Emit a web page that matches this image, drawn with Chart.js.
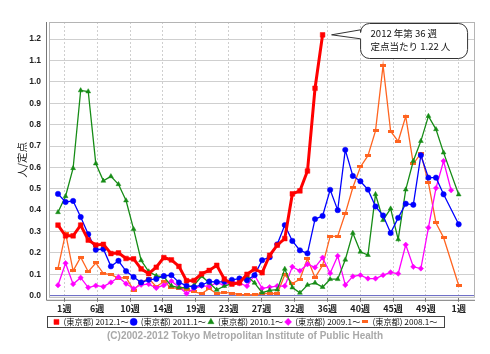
<!DOCTYPE html>
<html>
<head>
<meta charset="utf-8">
<title>東京都 インフルエンザ 定点当たり報告数</title>
<script src="https://cdn.jsdelivr.net/npm/chart.js@4.4.0/dist/chart.umd.min.js"></script>
<style>
body { margin: 0; background: #fff; }
#wrap { width: 490px; height: 354px; }
</style>
</head>
<body>
<div id="wrap"><canvas id="flu" width="490" height="354"></canvas></div>
<script>
// month-start week labels along the bottom
var monthLabels = ['1週', '6週', '10週', '14週', '19週', '23週', '27週', '32週', '36週', '40週', '45週', '49週', '1週'];
var yTicks = [0, 0.1, 0.2, 0.3, 0.4, 0.5, 0.6, 0.7, 0.8, 0.9, 1.0, 1.1, 1.2];
var seriesNames = ['(東京都) 2012.1～', '(東京都) 2011.1～', '(東京都) 2010.1～', '(東京都) 2009.1～', '(東京都) 2008.1～'];
var copyright = '(C)2002-2012 Tokyo Metropolitan Institute of Public Health';

// per-week values (index 0 = 1週); 52-week years end on next year's 1週 (index 53)
var y2012 = [0.33, 0.28, 0.28, 0.33, 0.26, 0.237, 0.24, 0.197, 0.20, 0.174, 0.172, 0.125, 0.103, 0.133, 0.178, 0.167, 0.137, 0.07,
    0.071, 0.102, 0.118, 0.142, 0.078, 0.054, 0.06, 0.10, 0.125, 0.107, 0.189, 0.236, 0.267, 0.476, 0.49, 0.583, 0.97, 1.22];
var y2011 = [0.476, 0.438, 0.443, 0.368, 0.287, 0.215, 0.218, 0.137, 0.163, 0.115, 0.087, 0.062, 0.074, 0.078, 0.092, 0.096, 0.062, 0.047,
    0.04, 0.05, 0.066, 0.064, 0.066, 0.074, 0.08, 0.072, 0.096, 0.166, 0.18, 0.24, 0.33, 0.256, 0.212, 0.198, 0.358, 0.373,
    0.495, 0.40, 0.682, 0.56, 0.535, 0.496, 0.417, 0.375, 0.293, 0.364, 0.43, 0.425, 0.657, 0.552, 0.552, 0.474, null, 0.334];
var y2010 = [0.39, 0.465, 0.596, 0.96, 0.955, 0.618, 0.537, 0.558, 0.521, 0.445, 0.311, 0.165, 0.113, 0.093, 0.088, 0.046, 0.038, 0.038,
    0.049, 0.091, 0.06, 0.027, 0.045, 0.056, 0.062, 0.091, 0.06, 0.014, 0.025, 0.028, 0.125, 0.038, 0.013, 0.05, 0.06, 0.04,
    0.077, 0.077, 0.168, 0.293, 0.205, 0.19, 0.474, 0.353, 0.407, 0.263, 0.496, 0.63, 0.723, 0.84, 0.778, 0.669, null, 0.473];
var y2009 = [0.049, 0.152, 0.054, 0.084, 0.038, 0.047, 0.042, 0.062, 0.087, 0.056, 0.033, 0.051, 0.054, 0.036, 0.049, 0.068, 0.041, 0.01,
    0.034, 0.045, 0.045, 0.06, 0.05, 0.068, 0.057, 0.045, 0.096, 0.034, 0.04, 0.045, 0.045, 0.135, 0.116, 0.147, 0.132, 0.178,
    0.105, 0.186, 0.05, 0.09, 0.096, 0.08, 0.08, 0.096, 0.109, 0.103, 0.238, 0.135, 0.127, 0.318, 0.503, 0.63, 0.493];
var y2008 = [0.128, 0.292, 0.116, 0.18, 0.112, 0.153, 0.104, 0.098, 0.082, 0.085, 0.026, 0.062, 0.08, 0.042, 0.066, 0.036, 0.034, 0.03,
    0.018, 0.01, 0.032, 0.01, 0.015, 0.012, 0.005, 0.005, 0.004, 0.01, 0.011, 0.009, 0.098, 0.057, 0.077, 0.174, 0.084, 0.142,
    0.277, 0.278, 0.384, 0.506, 0.602, 0.655, 0.771, 1.077, 0.769, 0.722, 0.839, 0.616, 0.665, 0.527, 0.34, 0.272, null, 0.049];

var firstTick = 0.83;          // 1週 gridline sits a bit right of the first weekly point
var weeksPerMonth = 52.18 / 12;

function pts(arr) {
    return arr.map(function (v, i) { return {x: i, y: v}; });
}

// small flat bar marker used for the 2008 series
function barMarker(color, w, h) {
    var c = document.createElement('canvas');
    c.width = w; c.height = h;
    var g = c.getContext('2d');
    g.fillStyle = color;
    g.fillRect(0, 0, w, h);
    return c;
}

function series(i, arr, color, style, radius, width) {
    return {
        label: seriesNames[i],
        data: pts(arr),
        borderColor: color,
        backgroundColor: color,
        pointBackgroundColor: color,
        pointBorderColor: color,
        borderWidth: width,
        pointStyle: style,
        pointRadius: radius,
        pointBorderWidth: 0.5,
        spanGaps: true,
        tension: 0
    };
}

var plotFrame = {
    id: 'plotFrame',
    beforeDatasetsDraw: function (chart) {
        var a = chart.chartArea, c = chart.ctx;
        c.save();
        c.strokeStyle = '#b4b4b4';
        c.lineWidth = 1;
        c.strokeRect(a.left + 0.5, a.top + 0.5, a.right - a.left - 1, a.bottom - a.top - 1);
        c.strokeStyle = '#777';
        c.beginPath();
        c.moveTo(a.left - 2.5, a.top);
        c.lineTo(a.left - 2.5, a.bottom + 2.5);
        c.lineTo(a.right, a.bottom + 2.5);
        c.stroke();
        c.restore();
    },
    afterDraw: function (chart) {
        var c = chart.ctx;
        c.save();
        // box round the legend
        var hb = chart.legend.legendHitBoxes;
        if (hb && hb.length) {
            var last = hb[hb.length - 1];
            c.strokeStyle = '#444';
            c.lineWidth = 1;
            var l = Math.round(hb[0].left - 6) + 0.5;
            var r = Math.round(last.left + last.width + 6) + 0.5;
            var t = Math.round(hb[0].top - 2) + 0.5;
            c.strokeRect(l, t, r - l, 11);
        }
        // copyright line under the legend
        c.fillStyle = '#a9a9a9';
        c.font = 'bold 10px "Liberation Sans", sans-serif';
        c.textAlign = 'center';
        c.textBaseline = 'middle';
        c.fillText(copyright, chart.width / 2, 336);
        c.restore();
    }
};

var callout = {
    id: 'callout',
    afterDatasetsDraw: function (chart) {
        var meta = chart.getDatasetMeta(0);
        var p = meta.data[y2012.length - 1];
        var c = chart.ctx;
        var tipX = p.x + 9, tipY = p.y;
        var left = p.x + 38, top = 23.5, w = 107, h = 35, r = 9;
        c.save();
        c.fillStyle = '#fff';
        c.strokeStyle = '#333';
        c.lineWidth = 1;
        c.beginPath();
        c.moveTo(left + r, top);
        c.lineTo(left + w - r, top);
        c.arcTo(left + w, top, left + w, top + r, r);
        c.lineTo(left + w, top + h - r);
        c.arcTo(left + w, top + h, left + w - r, top + h, r);
        c.lineTo(left + r, top + h);
        c.arcTo(left, top + h, left, top + h - r, r);
        c.lineTo(left, tipY + 4);
        c.lineTo(tipX, tipY);
        c.lineTo(left, tipY - 5);
        c.lineTo(left, top + r);
        c.arcTo(left, top, left + r, top, r);
        c.closePath();
        c.fill();
        c.stroke();
        c.fillStyle = '#111';
        c.font = '9.5px "Noto Sans CJK JP", sans-serif';
        c.textBaseline = 'alphabetic';
        c.fillText('2012 年第 36 週', left + 10, top + 13.5);
        c.fillText('定点当たり ' + y2012[y2012.length - 1].toFixed(2) + ' 人', left + 10, top + 26.5);
        c.restore();
    }
};

var ctx = document.getElementById('flu').getContext('2d');
var chart = new Chart(ctx, {
    type: 'line',
    data: {
        datasets: [
            series(0, y2012, '#ff0000', 'rect', 3.3, 3),
            series(1, y2011, '#0000ff', 'circle', 2.7, 1.3),
            series(2, y2010, '#168c16', 'triangle', 2.8, 1.3),
            series(3, y2009, '#ff00ff', 'rectRot', 2.7, 1.3),
            series(4, y2008, '#ff6420', barMarker('#ff6420', 6, 3), 3, 1.3)
        ]
    },
    options: {
        responsive: false,
        animation: false,
        devicePixelRatio: 1,
        layout: {padding: {top: 22, right: 15, left: 16, bottom: 18}},
        scales: {
            x: {
                type: 'linear',
                min: -1.19,
                max: 55.16,
                afterBuildTicks: function (scale) {
                    scale.ticks = monthLabels.map(function (l, k) {
                        return {value: firstTick + k * weeksPerMonth};
                    });
                },
                afterFit: function (scale) { scale.height = 18; },
                ticks: {
                    autoSkip: false,
                    maxRotation: 0,
                    padding: 1,
                    color: '#222',
                    font: {family: '"Noto Sans CJK JP", sans-serif', size: 9, weight: 'bold'},
                    callback: function (v, i) { return monthLabels[i]; }
                },
                grid: {
                    color: '#cfcfcf',
                    borderDash: [2, 2],
                    tickColor: '#777',
                    tickLength: 4,
                    tickBorderDash: []
                },
                border: {display: false, dash: [2, 2]}
            },
            y: {
                min: -0.01,
                max: 1.28,
                afterBuildTicks: function (scale) {
                    scale.ticks = yTicks.map(function (v) { return {value: v}; });
                },
                afterFit: function (scale) { scale.width = 33; },
                ticks: {
                    padding: 8,
                    color: '#222',
                    font: {family: '"Liberation Sans", sans-serif', size: 8.5, weight: 'bold'},
                    callback: function (v) { return v.toFixed(1); }
                },
                title: {
                    display: true,
                    text: '人/定点',
                    color: '#222',
                    padding: {top: 0, bottom: 0},
                    font: {family: '"Noto Sans CJK JP", sans-serif', size: 10.5}
                },
                grid: {
                    drawTicks: false,
                    borderDash: [2, 2],
                    color: function (c) { return c.tick && c.tick.value === 0 ? '#7070c8' : '#cfcfcf'; }
                },
                border: {display: false}
            }
        },
        plugins: {
            legend: {
                position: 'bottom',
                labels: {
                    usePointStyle: true,
                    boxWidth: 6,
                    boxHeight: 5,
                    padding: 2,
                    color: '#111',
                    font: {family: '"Noto Sans CJK JP", sans-serif', size: 8.2}
                }
            },
            title: {display: false},
            tooltip: {enabled: false}
        }
    },
    plugins: [plotFrame, callout]
});
</script>
</body>
</html>
